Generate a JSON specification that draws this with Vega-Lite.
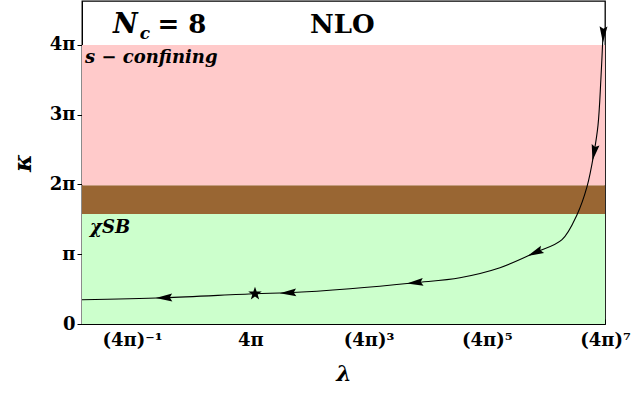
{
  "$schema": "https://vega.github.io/schema/vega-lite/v6.json",
  "width": 523,
  "height": 323,
  "autosize": {"type": "none"},
  "padding": {"left": 82, "top": 1, "right": 31, "bottom": 73},
  "background": "white",
  "config": {
    "view": {"stroke": "black", "strokeWidth": 1.3},
    "font": "DejaVu Serif"
  },
  "encoding": {
    "x": {
      "type": "quantitative",
      "scale": {"domain": [-1.846, 7], "nice": false, "zero": false},
      "axis": {
        "title": "λ",
        "titleFont": "DejaVu Serif",
        "titleFontSize": 22,
        "titleFontWeight": "bold",
        "titleFontStyle": "italic",
        "titlePadding": 14,
        "values": [-1, 1, 3, 5, 7],
        "labelExpr": "datum.value == -1 ? '(4π)⁻¹' : datum.value == 1 ? '4π' : datum.value == 3 ? '(4π)³' : datum.value == 5 ? '(4π)⁵' : '(4π)⁷'",
        "labelFont": "DejaVu Serif",
        "labelFontSize": 18,
        "labelFontWeight": "bold",
        "labelColor": "black",
        "labelPadding": 12,
        "labelFlush": false,
        "labelOverlap": false,
        "tickSize": -5,
        "tickColor": "black",
        "domainColor": "black",
        "grid": false
      }
    },
    "y": {
      "type": "quantitative",
      "scale": {"domain": [0, 4.63], "nice": false},
      "axis": {
        "title": "κ",
        "titleFont": "DejaVu Serif",
        "titleFontSize": 24,
        "titleFontWeight": "bold",
        "titleFontStyle": "italic",
        "titlePadding": 14,
        "values": [0, 1, 2, 3, 4],
        "labelExpr": "datum.value == 0 ? '0' : datum.value == 1 ? 'π' : datum.value + 'π'",
        "labelFont": "DejaVu Serif",
        "labelFontSize": 18,
        "labelFontWeight": "bold",
        "labelColor": "black",
        "labelPadding": 2,
        "labelFlush": false,
        "tickSize": 5,
        "tickColor": "black",
        "domainColor": "black",
        "grid": false
      }
    }
  },
  "layer": [
    {
      "data": {"values": [
        {"region": "χSB", "x0": -1.846, "x1": 7, "k0": 0, "k1": 1.575},
        {"region": "mixed", "x0": -1.846, "x1": 7, "k0": 1.575, "k1": 1.99},
        {"region": "s-confining", "x0": -1.846, "x1": 7, "k0": 1.99, "k1": 4.0}
      ]},
      "mark": {"type": "rect"},
      "encoding": {
        "x": {"field": "x0"},
        "x2": {"field": "x1"},
        "y": {"field": "k0"},
        "y2": {"field": "k1"},
        "color": {
          "field": "region", "type": "nominal",
          "scale": {"domain": ["χSB", "mixed", "s-confining"], "range": ["#CCFFCC", "#996633", "#FFCACA"]},
          "legend": null
        }
      }
    },
    {
      "data": {"values": [
        {"lam_exp": -1.846, "kappa": 0.348},
        {"lam_exp": -0.459, "kappa": 0.376},
        {"lam_exp": 1.08, "kappa": 0.434},
        {"lam_exp": 1.638, "kappa": 0.448},
        {"lam_exp": 2.687, "kappa": 0.506},
        {"lam_exp": 3.786, "kappa": 0.592},
        {"lam_exp": 4.547, "kappa": 0.664},
        {"lam_exp": 5.224, "kappa": 0.807},
        {"lam_exp": 5.816, "kappa": 1.022},
        {"lam_exp": 6.273, "kappa": 1.209},
        {"lam_exp": 6.527, "kappa": 1.567},
        {"lam_exp": 6.696, "kappa": 1.968},
        {"lam_exp": 6.814, "kappa": 2.455},
        {"lam_exp": 6.882, "kappa": 2.85},
        {"lam_exp": 6.93, "kappa": 3.5},
        {"lam_exp": 6.97, "kappa": 4.22}
      ]},
      "mark": {"type": "line", "color": "black", "strokeWidth": 1.1, "interpolate": "catmull-rom"},
      "encoding": {
        "x": {"field": "lam_exp"},
        "y": {"field": "kappa"}
      }
    },
    {
      "data": {"values": [
        {"lam_exp": 6.97, "kappa": 4.15, "angle": -88},
        {"lam_exp": 6.814, "kappa": 2.455, "angle": -79},
        {"lam_exp": 5.816, "kappa": 1.022, "angle": -24},
        {"lam_exp": 3.786, "kappa": 0.592, "angle": -6},
        {"lam_exp": 1.638, "kappa": 0.448, "angle": -3},
        {"lam_exp": -0.459, "kappa": 0.376, "angle": -2}
      ]},
      "mark": {"type": "point", "shape": "M-1,0L1,-0.48L0.7,0L1,0.48Z", "filled": true, "color": "black", "opacity": 1, "size": 270},
      "encoding": {
        "x": {"field": "lam_exp"},
        "y": {"field": "kappa"},
        "angle": {"field": "angle", "type": "quantitative", "scale": null}
      }
    },
    {
      "data": {"values": [{"lam_exp": 1.08, "kappa": 0.434}]},
      "mark": {"type": "point", "shape": "M0,-1L0.235,-0.324L0.951,-0.309L0.38,0.124L0.588,0.809L0,0.4L-0.588,0.809L-0.38,0.124L-0.951,-0.309L-0.235,-0.324Z", "filled": true, "color": "black", "opacity": 1, "size": 200},
      "encoding": {
        "x": {"field": "lam_exp"},
        "y": {"field": "kappa"}
      }
    },
    {
      "data": {"values": [
        {"t": "N", "lam_exp": -1.32, "kappa": 4.17}
      ]},
      "mark": {"type": "text", "align": "left", "baseline": "alphabetic", "font": "DejaVu Serif", "fontSize": 27, "fontWeight": "bold", "fontStyle": "italic", "color": "black"},
      "encoding": {"x": {"field": "lam_exp"}, "y": {"field": "kappa"}, "text": {"field": "t"}}
    },
    {
      "data": {"values": [
        {"t": "c", "lam_exp": -0.87, "kappa": 4.09}
      ]},
      "mark": {"type": "text", "align": "left", "baseline": "alphabetic", "font": "DejaVu Serif", "fontSize": 17, "fontWeight": "bold", "fontStyle": "italic", "color": "black"},
      "encoding": {"x": {"field": "lam_exp"}, "y": {"field": "kappa"}, "text": {"field": "t"}}
    },
    {
      "data": {"values": [
        {"t": "= 8", "lam_exp": -0.57, "kappa": 4.17},
        {"t": "NLO", "lam_exp": 2.01, "kappa": 4.17}
      ]},
      "mark": {"type": "text", "align": "left", "baseline": "alphabetic", "font": "DejaVu Serif", "fontSize": 26, "fontWeight": "bold", "color": "black"},
      "encoding": {"x": {"field": "lam_exp"}, "y": {"field": "kappa"}, "text": {"field": "t"}}
    },
    {
      "data": {"values": [
        {"t": "s − confining", "lam_exp": -1.795, "kappa": 3.74},
        {"t": "χSB", "lam_exp": -1.71, "kappa": 1.31}
      ]},
      "mark": {"type": "text", "align": "left", "baseline": "alphabetic", "font": "DejaVu Serif", "fontSize": 18, "fontWeight": "bold", "fontStyle": "italic", "color": "black"},
      "encoding": {"x": {"field": "lam_exp"}, "y": {"field": "kappa"}, "text": {"field": "t"}}
    }
  ]
}
